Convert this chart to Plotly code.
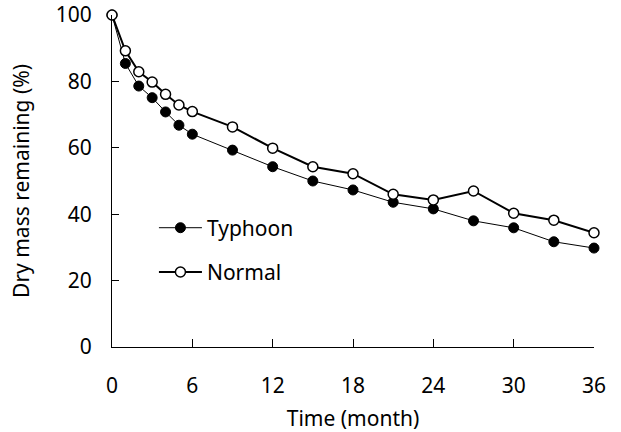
import plotly.graph_objects as go

months = [0, 1, 2, 3, 4, 5, 6, 9, 12, 15, 18, 21, 24, 27, 30, 33, 36]
typhoon = [100, 85.4, 78.6, 75.1, 70.8, 66.8, 64.1, 59.3, 54.3, 50.0, 47.3, 43.6, 41.6, 38.0, 35.9, 31.7, 29.8]
normal = [100, 89.2, 82.9, 79.8, 76.1, 72.9, 70.9, 66.3, 59.9, 54.3, 52.2, 46.0, 44.3, 47.0, 40.3, 38.2, 34.4]
x_ticks = [0, 6, 12, 18, 24, 30, 36]
y_ticks = [0, 20, 40, 60, 80, 100]

FONT = "Noto Sans"

fig = go.Figure()
fig.add_trace(go.Scatter(
    x=months, y=typhoon, name="Typhoon", mode="lines+markers",
    line=dict(color="black", width=1),
    marker=dict(symbol="circle", size=10, color="black", line=dict(color="black", width=1)),
    cliponaxis=False, legendgroup="t"))
fig.add_trace(go.Scatter(
    x=months, y=normal, name="Normal", mode="lines+markers",
    line=dict(color="black", width=2),
    marker=dict(symbol="circle", size=10, color="white", line=dict(color="black", width=1.5)),
    cliponaxis=False, legendgroup="n"))

fig.update_layout(
    width=621, height=432,
    margin=dict(l=112, r=27, t=15, b=85, autoexpand=False),
    paper_bgcolor="white", plot_bgcolor="white",
    font=dict(family=FONT, size=21, color="black"),
    showlegend=True,
    legend=dict(x=0.087, y=0.42, xanchor="left", yanchor="top",
                bgcolor="rgba(0,0,0,0)", font=dict(size=21, family=FONT),
                tracegroupgap=14, itemwidth=43),
    xaxis=dict(range=[0, 36], tickvals=x_ticks, ticks="inside", ticklen=8,
               tickwidth=1, tickcolor="black", showline=True, linecolor="black",
               linewidth=1.2, showgrid=False, zeroline=False, automargin=False,
               ticklabelstandoff=20, ticklabeloverflow="allow",
               title=dict(text="Time (month)", font=dict(size=21), standoff=14)),
    yaxis=dict(range=[0, 100], tickvals=y_ticks, ticks="inside", ticklen=7,
               tickwidth=1, tickcolor="black", showline=True, linecolor="black",
               linewidth=1.2, showgrid=False, zeroline=False, automargin=False,
               ticklabelstandoff=15, ticklabeloverflow="allow",
               title=dict(text="Dry mass remaining (%)", font=dict(size=21), standoff=20)),
)

# remove the page's default 8px body margin so the figure fills the window
fig.write_html("out.html", config={"displayModeBar": False},
               post_script="document.body.style.margin='0';")
